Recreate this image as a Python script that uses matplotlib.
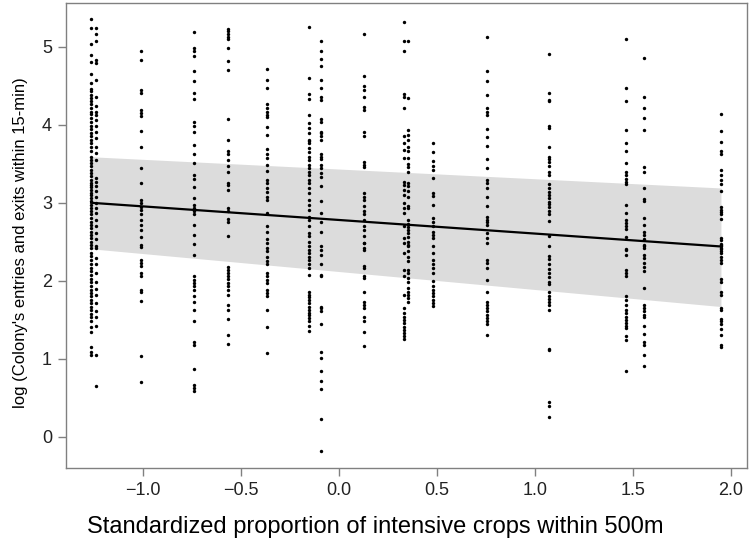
import matplotlib
matplotlib.use("Agg")
import matplotlib.pyplot as plt

plt.rcParams['font.family'] = ['Liberation Sans', 'DejaVu Sans']

# x position of each site column (standardized proportion of intensive crops)
site_x = [-1.265, -1.24, -1.01, -0.74, -0.566, -0.367, -0.155, -0.092,
          0.128, 0.332, 0.352, 0.48, 0.755, 1.07, 1.464, 1.556, 1.949]

# log entries/exits read per column
y_a = [5.35, 5.24, 5.03, 4.90, 4.81, 4.65, 4.54, 4.46, 4.43, 4.38, 4.34, 4.30,
       4.27, 4.21, 4.17, 4.14, 4.09, 4.04, 3.98, 3.94, 3.89, 3.85, 3.81, 3.76,
       3.72, 3.66, 3.59, 3.55, 3.51, 3.47, 3.42, 3.38, 3.34, 3.29, 3.26, 3.23,
       3.20, 3.17, 3.13, 3.10, 3.06, 3.02, 2.97, 2.93, 2.89, 2.85, 2.80, 2.76,
       2.72, 2.68, 2.63, 2.59, 2.55, 2.50, 2.46, 2.42, 2.36, 2.32, 2.27, 2.22,
       2.16, 2.12, 2.08, 2.02, 1.98, 1.93, 1.88, 1.84, 1.80, 1.76, 1.71, 1.67,
       1.62, 1.58, 1.53, 1.48, 1.41, 1.35, 1.15, 1.09, 1.05]
y_b = [5.24, 5.16, 5.07, 4.83, 4.79, 4.58, 4.36, 4.24, 4.17, 4.13, 4.06, 3.99,
       3.91, 3.83, 3.72, 3.64, 3.55, 3.32, 3.27, 3.21, 3.15, 3.08, 3.00, 2.93,
       2.87, 2.78, 2.70, 2.61, 2.53, 2.44, 2.42, 2.29, 2.21, 2.10, 1.99, 1.89,
       1.82, 1.71, 1.61, 1.54, 1.42, 1.05, 0.65]
y_c = [4.94, 4.83, 4.44, 4.41, 4.19, 4.15, 4.11, 3.92, 3.71, 3.45, 3.26, 3.03,
       3.00, 2.95, 2.91, 2.85, 2.78, 2.72, 2.65, 2.56, 2.46, 2.43, 2.27, 2.23,
       2.19, 2.10, 2.06, 1.88, 1.85, 1.74, 1.04, 0.70]
y_d = [5.19, 4.99, 4.94, 4.88, 4.69, 4.56, 4.41, 4.33, 4.04, 3.98, 3.91, 3.74,
       3.62, 3.51, 3.36, 3.31, 3.20, 3.06, 2.97, 2.93, 2.90, 2.85, 2.72, 2.59,
       2.47, 2.33, 2.06, 2.01, 1.97, 1.93, 1.88, 1.80, 1.73, 1.63, 1.49, 1.22,
       1.18, 0.87, 0.67, 0.63, 0.59]
y_e = [5.23, 5.20, 5.17, 5.13, 5.10, 4.99, 4.82, 4.70, 4.07, 3.81, 3.67, 3.62,
       3.55, 3.47, 3.39, 3.26, 3.23, 3.16, 2.93, 2.90, 2.79, 2.76, 2.57, 2.18,
       2.14, 2.10, 2.06, 2.02, 1.97, 1.93, 1.88, 1.82, 1.69, 1.63, 1.51, 1.31,
       1.19]
y_f = [4.71, 4.57, 4.47, 4.26, 4.21, 4.17, 4.13, 4.10, 3.97, 3.87, 3.69, 3.63,
       3.57, 3.49, 3.41, 3.29, 3.25, 3.19, 3.14, 3.08, 3.04, 2.87, 2.70, 2.62,
       2.53, 2.42, 2.48, 2.38, 2.31, 2.25, 2.21, 2.10, 2.06, 2.01, 1.97, 1.88,
       1.84, 1.80, 1.62, 1.41, 1.08]
y_g = [5.25, 4.60, 4.40, 4.33, 4.12, 4.02, 3.96, 3.89, 3.81, 3.79, 3.76, 3.70,
       3.65, 3.59, 3.55, 3.49, 3.44, 3.40, 3.35, 3.29, 3.25, 3.19, 3.12, 3.04,
       2.97, 2.91, 2.82, 2.78, 2.70, 2.61, 2.57, 2.50, 2.44, 2.40, 2.36, 2.31,
       2.27, 2.22, 2.17, 2.08, 1.86, 1.82, 1.79, 1.76, 1.71, 1.67, 1.63, 1.59,
       1.56, 1.52, 1.48, 1.42, 1.36]
y_h = [5.07, 4.94, 4.84, 4.75, 4.58, 4.47, 4.36, 4.32, 4.07, 4.03, 3.91, 3.89,
       3.85, 3.81, 3.63, 3.59, 3.56, 3.49, 3.44, 3.38, 3.33, 3.21, 3.02, 2.87,
       2.76, 2.63, 2.44, 2.40, 2.33, 2.21, 2.08, 2.06, 1.67, 1.65, 1.61, 1.45,
       1.09, 1.01, 0.85, 0.71, 0.61, 0.23, -0.18]
y_i = [5.17, 4.63, 4.50, 4.44, 4.36, 4.23, 4.19, 3.91, 3.85, 3.52, 3.48, 3.46,
       3.13, 3.08, 3.04, 2.96, 2.90, 2.85, 2.78, 2.70, 2.65, 2.57, 2.49, 2.42,
       2.48, 2.39, 2.19, 2.16, 2.06, 2.03, 1.86, 1.73, 1.69, 1.65, 1.54, 1.48,
       1.35, 1.16]
y_j = [5.32, 5.08, 4.95, 4.40, 4.36, 4.21, 3.85, 3.77, 3.68, 3.57, 3.27, 3.23,
       3.17, 3.10, 3.00, 2.93, 2.87, 2.70, 2.55, 2.48, 2.36, 2.14, 2.06, 1.82,
       1.65, 1.59, 1.54, 1.50, 1.46, 1.41, 1.37, 1.33, 1.29, 1.25]
y_k = [5.07, 4.34, 3.93, 3.87, 3.81, 3.72, 3.66, 3.57, 3.50, 3.46, 3.40, 3.26,
       3.21, 3.15, 3.08, 2.96, 2.93, 2.78, 2.73, 2.69, 2.65, 2.61, 2.56, 2.50,
       2.46, 2.44, 2.38, 2.31, 2.25, 2.14, 2.10, 2.03, 1.99, 1.91, 1.86, 1.82,
       1.78, 1.73]
y_l = [3.76, 3.65, 3.53, 3.47, 3.42, 3.32, 3.13, 3.09, 2.97, 2.80, 2.76, 2.70,
       2.63, 2.59, 2.55, 2.45, 2.35, 2.27, 2.22, 2.16, 2.10, 2.00, 1.93, 1.88,
       1.84, 1.80, 1.76, 1.71, 1.68]
y_m = [5.12, 4.69, 4.56, 4.38, 4.21, 4.17, 4.13, 3.94, 3.84, 3.73, 3.56, 3.45,
       3.29, 3.26, 3.19, 3.08, 2.96, 2.82, 2.78, 2.75, 2.72, 2.61, 2.55, 2.49,
       2.27, 2.23, 2.16, 2.01, 1.85, 1.73, 1.69, 1.65, 1.61, 1.56, 1.52, 1.48,
       1.44, 1.31]
y_n = [4.91, 4.41, 4.32, 4.30, 3.99, 3.96, 3.72, 3.59, 3.56, 3.52, 3.47, 3.39,
       3.36, 3.24, 3.19, 3.14, 3.10, 3.06, 3.01, 2.99, 2.95, 2.90, 2.85, 2.77,
       2.57, 2.44, 2.32, 2.28, 2.21, 2.15, 2.10, 2.05, 1.99, 1.96, 1.85, 1.80,
       1.77, 1.73, 1.69, 1.62, 1.12, 1.11, 0.44, 0.39, 0.26]
y_o = [5.10, 4.47, 4.30, 3.93, 3.76, 3.67, 3.51, 3.39, 3.35, 3.30, 3.27, 3.24,
       2.97, 2.87, 2.78, 2.74, 2.70, 2.66, 2.56, 2.41, 2.40, 2.33, 2.14, 2.10,
       2.06, 1.80, 1.76, 1.69, 1.62, 1.59, 1.54, 1.50, 1.46, 1.42, 1.39, 1.29,
       1.24, 0.85]
y_p = [4.86, 4.35, 4.21, 4.09, 3.93, 3.46, 3.39, 3.19, 3.05, 3.02, 2.80, 2.72,
       2.63, 2.59, 2.53, 2.46, 2.42, 2.44, 2.33, 2.29, 2.23, 2.18, 2.13, 1.91,
       1.69, 1.65, 1.61, 1.56, 1.53, 1.42, 1.32, 1.22, 1.18, 1.05, 0.91]
y_q = [4.14, 3.92, 3.78, 3.66, 3.62, 3.42, 3.36, 3.29, 3.24, 3.15, 2.95, 2.91,
       2.88, 2.85, 2.79, 2.55, 2.52, 2.47, 2.44, 2.41, 2.46, 2.42, 2.38, 2.35,
       2.31, 2.27, 2.23, 2.02, 1.99, 1.85, 1.82, 1.65, 1.62, 1.51, 1.48, 1.44,
       1.38, 1.31, 1.18, 1.15]

site_y = [y_a, y_b, y_c, y_d, y_e, y_f, y_g, y_h, y_i, y_j, y_k, y_l, y_m,
          y_n, y_o, y_p, y_q]

# fitted line and its band at the ends of the data range
fit_x = [-1.265, 1.949]
fit_y = [3.00, 2.44]
band_lo = [2.41, 1.67]
band_hi = [3.59, 3.19]

fig = plt.figure(figsize=(7.5, 5.4), dpi=100)
ax = fig.add_axes([0.088, 0.1333, 0.908, 0.861])

ax.fill_between(fit_x, band_lo, band_hi, color='#dcdcdc', linewidth=0, zorder=1)
for xv, ys in zip(site_x, site_y):
    ax.scatter([xv] * len(ys), ys, s=6, color='black', linewidths=0, zorder=2)
ax.plot(fit_x, fit_y, color='black', linewidth=1.6, zorder=3)

ax.set_xlim(-1.393, 2.082)
ax.set_ylim(-0.40, 5.56)
ax.set_xticks([-1.0, -0.5, 0.0, 0.5, 1.0, 1.5, 2.0])
ax.set_yticks([0, 1, 2, 3, 4, 5])

for sp in ax.spines.values():
    sp.set_color('#808080')
    sp.set_linewidth(1.0)
ax.tick_params(direction='out', length=6, width=1.0, color='#808080',
               labelsize=13, labelcolor='#222222', pad=4)

ax.set_xlabel("Standardized proportion of intensive crops within 500m",
              fontsize=17, labelpad=12)
ax.xaxis.label.set_x(0.454)  # centred on the figure, not the axes
ax.set_ylabel("log (Colony's entries and exits within 15-min)", fontsize=12,
              labelpad=10)
ax.yaxis.label.set_y(0.485)

fig.savefig("out.png", dpi=100)
